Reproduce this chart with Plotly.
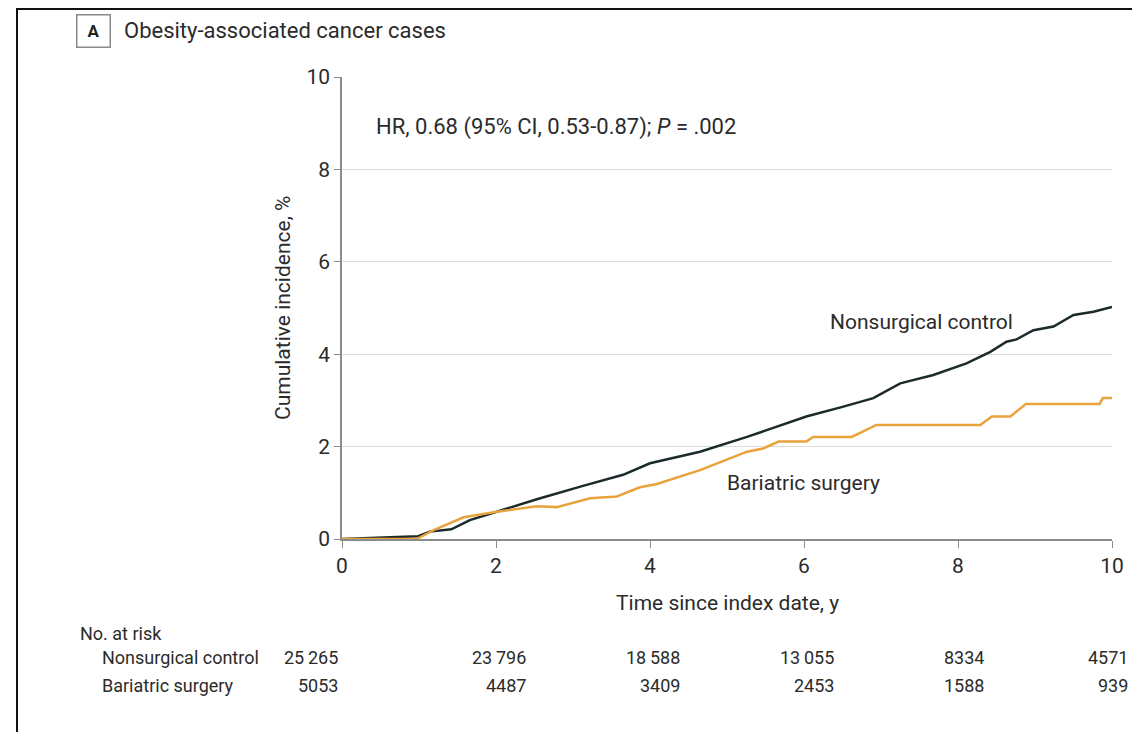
import plotly.graph_objects as go

# ---- data ----
control_t = [0, 0.5, 0.99, 1.14, 1.42, 1.66, 2.01, 2.53, 3.13, 3.65, 4.0, 4.52, 4.65, 5.26, 6.03,
             6.5, 6.9, 7.25, 7.68, 8.11, 8.42, 8.63, 8.76, 8.98, 9.24, 9.5, 9.76, 10.0]
control_y = [0, 0.03, 0.06, 0.16, 0.21, 0.41, 0.59, 0.86, 1.15, 1.39, 1.64, 1.85, 1.89, 2.21, 2.65,
             2.86, 3.05, 3.37, 3.55, 3.80, 4.05, 4.27, 4.32, 4.52, 4.6, 4.85, 4.92, 5.02]

bariatric_t = [0, 0.97, 1.19, 1.58, 2.01, 2.53, 2.79, 3.22, 3.57, 3.87, 4.09, 4.65, 5.26, 5.47, 5.67,
               6.03, 6.12, 6.62, 6.94, 8.29, 8.44, 8.68, 8.88, 9.84, 9.88, 10.0]
bariatric_y = [0, 0, 0.19, 0.47, 0.59, 0.71, 0.69, 0.88, 0.92, 1.12, 1.19, 1.49, 1.89, 1.96, 2.11,
               2.11, 2.21, 2.21, 2.47, 2.47, 2.65, 2.65, 2.92, 2.92, 3.05, 3.05]

risk_times = [0, 2, 4, 6, 8, 10]
risk_control = ["25\u2009265", "23\u2009796", "18\u2009588", "13\u2009055", "8334", "4571"]
risk_bariatric = ["5053", "4487", "3409", "2453", "1588", "939"]

x_ticks = [0, 2, 4, 6, 8, 10]
y_ticks = [0, 2, 4, 6, 8, 10]

# ---- layout helpers (positions given in reference-image pixels) ----
OFF = 8                     # page body margin
W, H = 1140 - OFF, 732 - OFF
RL, RT, PW, PH = 342, 77, 770, 462
L, T = RL - OFF, RT - OFF
R = W - L - PW
B = H - T - PH

def px(x):
    return (x - RL) / PW

def py(y):
    return (RT + PH - y) / PH

FONT = "Roboto, 'Liberation Sans', sans-serif"
TXT = "#2b2b2b"
CTRL = "#1b2a2b"
BAR = "#e9a33c"

fig = go.Figure()
fig.add_trace(go.Scatter(x=control_t, y=control_y, mode="lines",
                         line=dict(color=CTRL, width=2.5), name="Nonsurgical control",
                         showlegend=False))
fig.add_trace(go.Scatter(x=bariatric_t, y=bariatric_y, mode="lines",
                         line=dict(color=BAR, width=2.5), name="Bariatric surgery",
                         showlegend=False))

def txt(text, x, y, size, xanchor="left", **kw):
    return dict(text=text, x=x, y=y, xref="paper", yref="paper", showarrow=False,
                xanchor=xanchor, yanchor="middle",
                font=dict(size=size, color=TXT, family=FONT), **kw)

ann = []
ann.append(dict(text="<b>A</b>", x=px(93.5), y=py(30.5), xref="paper", yref="paper",
                showarrow=False, font=dict(size=17, color="#222", family=FONT),
                bordercolor="#8a8a8a", borderwidth=1.5, borderpad=5, width=22, height=21,
                xanchor="center", yanchor="middle"))
ann.append(txt("Obesity-associated cancer cases", px(122), py(31), 22))
ann.append(txt("HR, 0.68 (95% CI, 0.53-0.87); <i>P</i> = .002", px(374), py(127), 22))
ann.append(txt("Nonsurgical control", px(828), py(322), 21))
ann.append(txt("Bariatric surgery", px(725), py(483), 21))
ann.append(txt("Time since index date, y", px(727), py(603), 21, xanchor="center"))
ann.append(txt("Cumulative incidence, %", px(283), py(308), 21, xanchor="center", textangle=-90))
ann.append(txt("No. at risk", px(78), py(633), 18))
ann.append(txt("Nonsurgical control", px(100), py(657), 18))
ann.append(txt("Bariatric surgery", px(100), py(685), 18))
col_shift = [-0.03, 0.42, 0.42, 0.42, 0.36, 0.24]
for t, sh, c, b in zip(risk_times, col_shift, risk_control, risk_bariatric):
    xp = (t + sh) / 10.0
    ann.append(txt(c, xp, py(657), 18, xanchor="right"))
    ann.append(txt(b, xp, py(685), 18, xanchor="right"))

shapes = [
    dict(type="line", xref="paper", yref="paper", x0=px(17), x1=px(17), y0=py(9), y1=py(760),
         line=dict(color="#111", width=2)),
    dict(type="line", xref="paper", yref="paper", x0=px(16), x1=px(1160), y0=py(9), y1=py(9),
         line=dict(color="#111", width=2)),
]

fig.update_layout(
    width=W, height=H, margin=dict(l=L, r=R, t=T, b=B),
    paper_bgcolor="white", plot_bgcolor="white",
    font=dict(family=FONT, size=19, color=TXT),
    annotations=ann, shapes=shapes, showlegend=False,
    xaxis=dict(range=[0, 10], tickvals=x_ticks, ticktext=[str(v) for v in x_ticks],
               showgrid=False, zeroline=False, showline=True, linecolor="#8c8c8c",
               linewidth=1.5, ticks="outside", ticklen=7, tickcolor="#8c8c8c",
               tickfont=dict(size=21, color=TXT, family=FONT), fixedrange=True),
    yaxis=dict(range=[0, 10], tickvals=y_ticks, ticktext=[str(v) for v in y_ticks],
               showgrid=True, gridcolor="#dcdcdc", gridwidth=1, zeroline=False,
               showline=True, linecolor="#8c8c8c", linewidth=1.5, ticks="outside",
               ticklen=6, tickcolor="#8c8c8c",
               tickfont=dict(size=21, color=TXT, family=FONT), fixedrange=True),
)

fig.write_html("out.html")
